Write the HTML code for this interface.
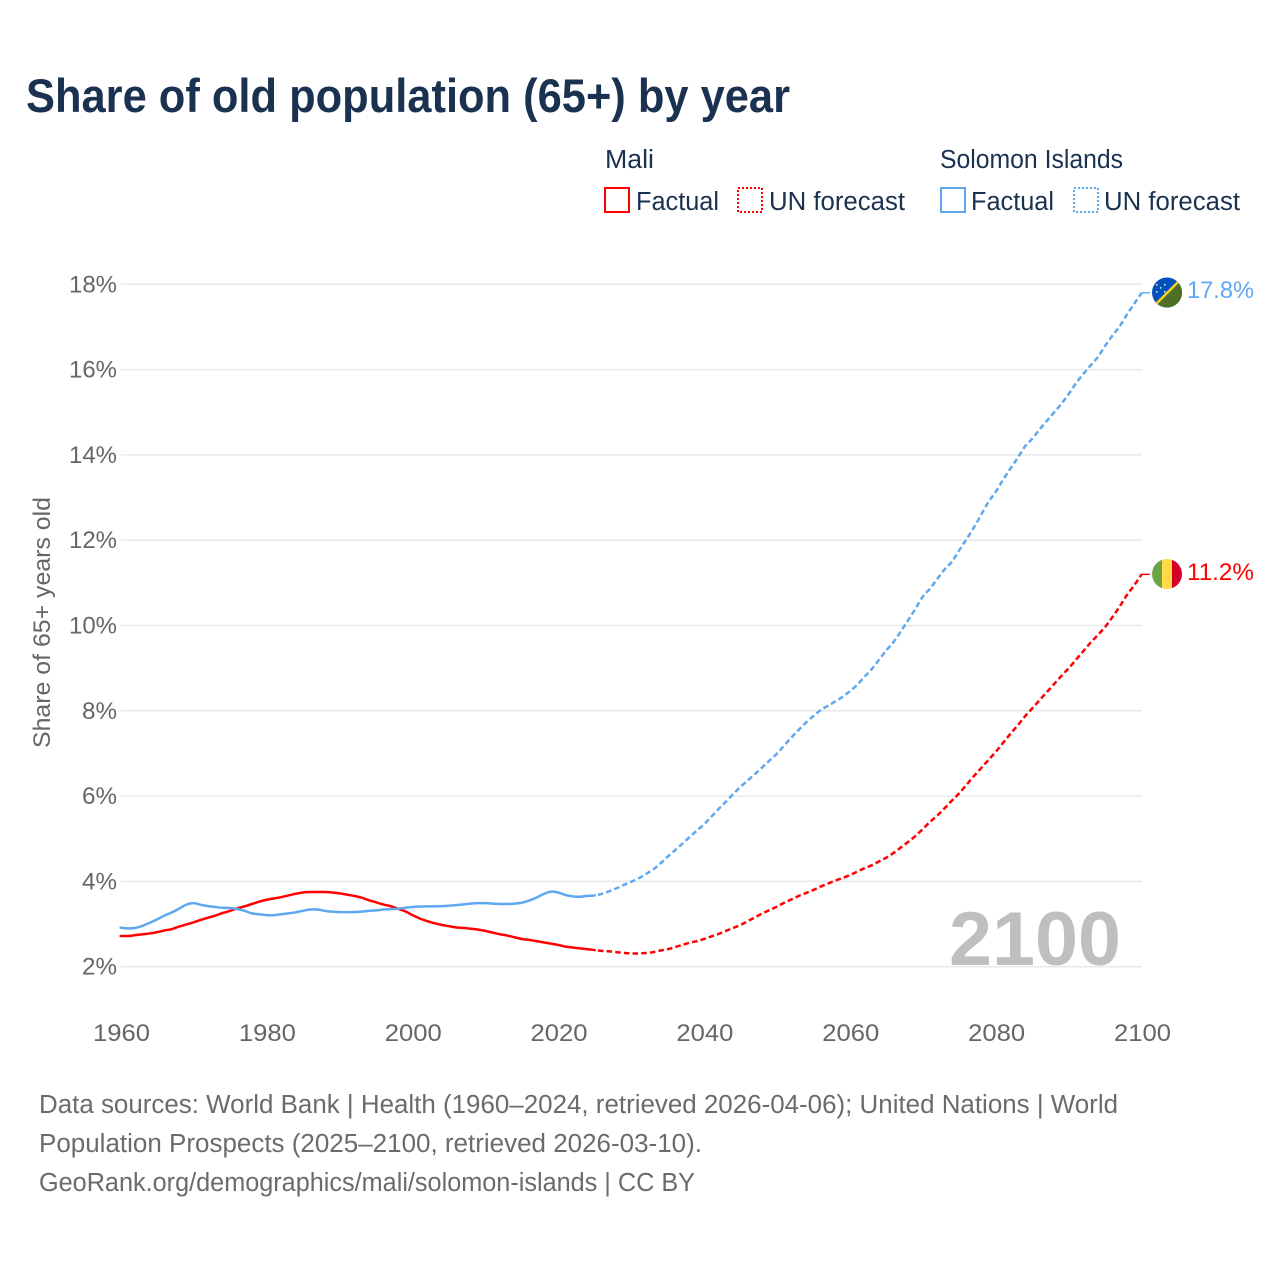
<!DOCTYPE html>
<html lang="en">
<head>
<meta charset="utf-8">
<title>Share of old population (65+) by year</title>
<style>
html,body{margin:0;padding:0;background:#fff;}
svg{display:block;font-family:"Liberation Sans",Arial,sans-serif;}
</style>
</head>
<body>
<svg id="chart" xmlns="http://www.w3.org/2000/svg" width="1280" height="1280" viewBox="0 0 1280 1280">
  <rect width="1280" height="1280" fill="#fff"/>
  <text x="26" y="112" font-size="47" font-weight="700" fill="#1a3150" textLength="764" lengthAdjust="spacingAndGlyphs">Share of old population (65+) by year</text>

  <g font-size="25.5" fill="#1a3150">
    <text x="605" y="168" textLength="49" lengthAdjust="spacingAndGlyphs">Mali</text>
    <text x="940" y="168" textLength="183" lengthAdjust="spacingAndGlyphs">Solomon Islands</text>
    <rect x="605" y="188" width="24" height="24" fill="none" stroke="#ff0000" stroke-width="2"/>
    <text x="636" y="210" textLength="83" lengthAdjust="spacingAndGlyphs">Factual</text>
    <rect x="738" y="188" width="24" height="24" fill="none" stroke="#ff0000" stroke-width="2" stroke-dasharray="2,2"/>
    <text x="769" y="210" textLength="136" lengthAdjust="spacingAndGlyphs">UN forecast</text>
    <rect x="941" y="188" width="24" height="24" fill="none" stroke="#5fa8f0" stroke-width="2"/>
    <text x="971" y="210" textLength="83" lengthAdjust="spacingAndGlyphs">Factual</text>
    <rect x="1074" y="188" width="24" height="24" fill="none" stroke="#5fa8f0" stroke-width="2" stroke-dasharray="2,2"/>
    <text x="1104" y="210" textLength="136" lengthAdjust="spacingAndGlyphs">UN forecast</text>
  </g>

  <text transform="translate(50,748) rotate(-90)" font-size="24.5" fill="#666" textLength="251" lengthAdjust="spacingAndGlyphs">Share of 65+ years old</text>

  <g id="grid"></g>
  <g id="yLabels"></g>
  <g id="xLabels"></g>
  <text id="yearMark" x="949" y="965" font-size="76" font-weight="700" fill="#bfbfbf" textLength="172" lengthAdjust="spacingAndGlyphs"></text>
  <g id="series"></g>

  <defs>
    <clipPath id="flagClipS"><circle cx="1167" cy="292.5" r="15"/></clipPath>
    <clipPath id="flagClipM"><circle cx="1167" cy="574" r="15"/></clipPath>
  </defs>
  <g id="flagSolomon" clip-path="url(#flagClipS)">
    <rect x="1152" y="277" width="30" height="31" fill="#0051ba"/>
    <polygon points="1184,277 1184,309 1150,309" fill="#4f6f26"/>
    <line x1="1154" y1="306" x2="1181" y2="279" stroke="#fcd116" stroke-width="2.4"/>
    <g fill="#d8e4f4">
      <rect x="1156" y="291" width="1.6" height="1.6"/><rect x="1164" y="291" width="1.6" height="1.6"/>
      <rect x="1160" y="287" width="1.6" height="1.6"/><rect x="1156" y="284" width="1.6" height="1.6"/>
      <rect x="1164" y="284" width="1.6" height="1.6"/>
    </g>
  </g>
  <g id="flagMali" clip-path="url(#flagClipM)">
    <rect x="1152" y="559" width="10" height="30" fill="#6da544"/>
    <rect x="1162" y="559" width="10" height="30" fill="#ffda44"/>
    <rect x="1172" y="559" width="10" height="30" fill="#d80027"/>
  </g>
  <text id="endLabelS" x="1187" y="298" font-size="24.5" fill="#5fa8f0" textLength="67" lengthAdjust="spacingAndGlyphs"></text>
  <text id="endLabelM" x="1187" y="580" font-size="24.5" fill="#ff0000" textLength="67" lengthAdjust="spacingAndGlyphs"></text>

  <g font-size="25.5" fill="#6b6b6b">
    <text x="39" y="1113" textLength="1079" lengthAdjust="spacingAndGlyphs">Data sources: World Bank | Health (1960–2024, retrieved 2026-04-06); United Nations | World</text>
    <text x="39" y="1152" textLength="663" lengthAdjust="spacingAndGlyphs">Population Prospects (2025–2100, retrieved 2026-03-10).</text>
    <text x="39" y="1191" textLength="656" lengthAdjust="spacingAndGlyphs">GeoRank.org/demographics/mali/solomon-islands | CC BY</text>
  </g>
</svg>
<script>
const firstYear = 1960;
const lastYear = 2100;
const yTickValues = [2,4,6,8,10,12,14,16,18];
const xTickValues = [1960,1980,2000,2020,2040,2060,2080,2100];

// Factual, 1960–2025
const maliFactual = [2.72,2.72,2.74,2.76,2.78,2.81,2.85,2.88,2.94,2.99,3.04,3.10,3.15,3.20,3.26,3.31,3.37,3.415,3.47,3.525,3.57,3.60,3.63,3.67,3.71,3.74,3.75,3.75,3.75,3.74,3.72,3.69,3.66,3.62,3.56,3.51,3.46,3.42,3.36,3.30,3.21,3.13,3.07,3.02,2.98,2.95,2.92,2.91,2.89,2.87,2.84,2.80,2.76,2.73,2.69,2.65,2.63,2.60,2.57,2.54,2.51,2.47,2.45,2.43,2.41,2.39];
const solomonFactual = [2.915,2.90,2.91,2.96,3.03,3.11,3.20,3.27,3.36,3.455,3.49,3.45,3.42,3.40,3.38,3.377,3.35,3.31,3.25,3.23,3.21,3.21,3.23,3.25,3.275,3.31,3.34,3.34,3.31,3.29,3.28,3.28,3.28,3.29,3.31,3.32,3.34,3.35,3.36,3.38,3.40,3.41,3.415,3.415,3.42,3.43,3.445,3.46,3.48,3.49,3.49,3.48,3.47,3.47,3.48,3.50,3.55,3.62,3.705,3.76,3.74,3.68,3.65,3.64,3.66,3.67];

// UN forecast, 2026–2100
const maliForecast = [2.37,2.36,2.34,2.325,2.31,2.31,2.32,2.34,2.38,2.41,2.46,2.51,2.56,2.60,2.65,2.71,2.77,2.84,2.91,2.98,3.07,3.16,3.25,3.33,3.41,3.50,3.58,3.66,3.73,3.80,3.88,3.95,4.02,4.08,4.15,4.23,4.31,4.38,4.47,4.56,4.67,4.80,4.93,5.07,5.23,5.40,5.55,5.72,5.90,6.07,6.27,6.47,6.66,6.85,7.04,7.25,7.46,7.66,7.87,8.06,8.25,8.44,8.63,8.82,9.00,9.20,9.40,9.60,9.78,9.97,10.20,10.45,10.72,10.95,11.20];
const solomonForecast = [3.71,3.77,3.84,3.92,3.99,4.07,4.17,4.28,4.42,4.58,4.73,4.88,5.04,5.19,5.34,5.52,5.70,5.87,6.05,6.22,6.37,6.52,6.68,6.84,7.00,7.19,7.38,7.56,7.73,7.88,8.02,8.12,8.22,8.33,8.46,8.61,8.80,8.98,9.20,9.42,9.62,9.87,10.13,10.40,10.68,10.87,11.10,11.32,11.50,11.77,12.03,12.30,12.60,12.90,13.14,13.42,13.68,13.93,14.20,14.38,14.60,14.80,15.00,15.20,15.43,15.68,15.90,16.10,16.30,16.56,16.80,17.02,17.30,17.55,17.80];

const NS = 'http://www.w3.org/2000/svg';
function xScale(year){ return 120.7 + (year - 1960) * (1141.7 - 120.7) / 140; }
function yScale(v){ return 966.7 - (v - 2) * (966.7 - 284.3) / 16; }
function make(tag, attrs, parent){
  const el = document.createElementNS(NS, tag);
  for (const k in attrs) el.setAttribute(k, attrs[k]);
  parent.appendChild(el);
  return el;
}

const grid = document.getElementById('grid');
const yLabels = document.getElementById('yLabels');
const xLabels = document.getElementById('xLabels');
const seriesGroup = document.getElementById('series');

yTickValues.forEach(function(t){
  const line = make('line', {x1:120.7, x2:1141.7, y1:yScale(t), y2:yScale(t), stroke:'#e9e9e9', 'stroke-width':1.5}, grid);
  
  
  const label = make('text', {x:117, y:yScale(t)+8, 'text-anchor':'end', 'font-size':24.5, fill:'#666', textLength:t >= 10 ? 48 : 35, lengthAdjust:'spacingAndGlyphs'}, yLabels);
  label.textContent = t + '%';
  
  
});

xTickValues.forEach(function(t){
  const label = make('text', {x:xScale(t)+0.8, y:1041, 'text-anchor':'middle', 'font-size':24.5, fill:'#666', textLength:57, lengthAdjust:'spacingAndGlyphs'}, xLabels);
  label.textContent = t;
  
  
});

// Smooth curve through the yearly points (Catmull-Rom converted to cubic Bezier)
function pathFrom(values, startYear){
  const pts = values.map(function(v, i){ return [xScale(startYear + i), yScale(v)]; });
  let d = 'M' + pts[0][0].toFixed(2) + ',' + pts[0][1].toFixed(2);
  for (let i = 0; i < pts.length - 1; i++){
    const p0 = pts[Math.max(i - 1, 0)], p1 = pts[i], p2 = pts[i + 1], p3 = pts[Math.min(i + 2, pts.length - 1)];
    const c1x = p1[0] + (p2[0] - p0[0]) / 6, c1y = p1[1] + (p2[1] - p0[1]) / 6;
    const c2x = p2[0] - (p3[0] - p1[0]) / 6, c2y = p2[1] - (p3[1] - p1[1]) / 6;
    d += 'C' + c1x.toFixed(2) + ',' + c1y.toFixed(2) + ' ' + c2x.toFixed(2) + ',' + c2y.toFixed(2) + ' ' + p2[0].toFixed(2) + ',' + p2[1].toFixed(2);
  }
  return d;
}

function drawSeries(key, color, factual, forecast, endX){
  const joined = [factual[factual.length - 1]].concat(forecast);
  const forecastPath = make('path', {d:pathFrom(joined, firstYear + factual.length - 1), fill:'none', stroke:color, 'stroke-width':2.5, 'stroke-dasharray':'5.5,3.2', 'stroke-dashoffset':5.5, 'stroke-linejoin':'round'}, seriesGroup);
  
  
  const factualPath = make('path', {d:pathFrom(factual, firstYear), fill:'none', stroke:color, 'stroke-width':2.5, 'stroke-linejoin':'round', 'stroke-linecap':'round'}, seriesGroup);
  
  
  const lastV = forecast[forecast.length - 1];
  const leader = make('line', {x1:xScale(lastYear), x2:endX, y1:yScale(lastV), y2:yScale(lastV), stroke:color, 'stroke-width':1.4}, seriesGroup);
  
  
  return lastV;
}

const endM = drawSeries('mali', '#ff0000', maliFactual, maliForecast, 1150);
const endS = drawSeries('solomon-islands', '#5fa8f0', solomonFactual, solomonForecast, 1150);

document.getElementById('endLabelM').textContent = endM.toFixed(1) + '%';
document.getElementById('endLabelS').textContent = endS.toFixed(1) + '%';
document.getElementById('yearMark').textContent = lastYear;
</script>
</body>
</html>
